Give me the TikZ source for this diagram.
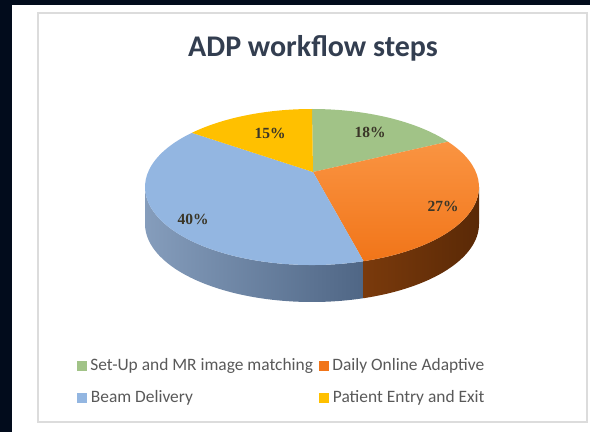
\documentclass[tikz,border=0pt]{standalone}
\usepackage{fontspec}
\setmainfont{Carlito}
\newfontfamily\pctfont{Liberation Serif}
\usetikzlibrary{positioning,calc}
\definecolor{navybg}{HTML}{020C1C}
\definecolor{panelgray}{HTML}{DCDCDC}
\definecolor{titleblue}{HTML}{333E50}
\definecolor{legendgray}{HTML}{595959}
\definecolor{pcttext}{HTML}{3A3628}
\definecolor{pgreen}{HTML}{A1C387}
\definecolor{porangeA}{HTML}{FA9442}
\definecolor{porangeB}{HTML}{F17519}
\definecolor{pblue}{HTML}{93B6E1}
\definecolor{pyellow}{HTML}{FFC000}
\definecolor{bluesideA}{HTML}{859DBC}
\definecolor{bluesideB}{HTML}{4F6685}
\definecolor{orangesideA}{HTML}{7A3A0C}
\definecolor{orangesideB}{HTML}{5A2906}
\tikzset{
  pct/.style={font=\pctfont\bfseries\fontsize{15.5}{15.5}\selectfont, text=pcttext},
  legkey/.style={minimum size=10pt, inner sep=0pt},
  legtext/.style={font=\fontsize{17.4}{17.4}\selectfont, text=legendgray, inner sep=0pt, anchor=west},
  pietitle/.style={font=\bfseries\fontsize{30}{30}\selectfont, text=titleblue},
  rim/.style={x radius=167, y radius=78}
}
\begin{document}
\begin{tikzpicture}[x=1pt,y=1pt]
  \useasboundingbox (0,0) rectangle (590,432);
  \fill[navybg] (0,0) rectangle (590,432);
  \fill[white] (12,0) rectangle (590,427);
  \draw[panelgray, line width=1.5pt, fill=white] (38,10) rectangle (587,419);
  \node[pietitle] (title) at (313,384) {ADP workflow steps};
  % pie: ellipse centre and slice vertex
  \coordinate (C) at (312,245);
  \coordinate (V) at (313,260);
  % side faces
  \shade[left color=bluesideA, right color=bluesideB] ($(C)+(180:167 and 78)$) arc[rim, start angle=180, end angle=288] -- ++(0,-37) arc[rim, start angle=288, end angle=180] -- cycle;
  \shade[left color=orangesideA, right color=orangesideB] ($(C)+(288:167 and 78)$) arc[rim, start angle=288, end angle=360] -- ++(0,-37) arc[rim, start angle=360, end angle=288] -- cycle;
  % top faces
  \fill[pgreen] (V) -- ($(C)+(90:167 and 78)$) arc[rim, start angle=90, end angle=35.5] -- cycle;
  \shade[top color=porangeA, bottom color=porangeB] (V) -- ($(C)+(35.5:167 and 78)$) arc[rim, start angle=35.5, end angle=-72] -- cycle;
  \fill[pblue] (V) -- ($(C)+(-72:167 and 78)$) arc[rim, start angle=-72, end angle=-224] -- cycle;
  \fill[pyellow] (V) -- ($(C)+(136:167 and 78)$) arc[rim, start angle=136, end angle=90] -- cycle;
  \node[pct] (p18) at (370,300) {18\%};
  \node[pct] (p27) at (443,226) {27\%};
  \node[pct] (p40) at (193,213) {40\%};
  \node[pct] (p15) at (270,299) {15\%};
  % legend
  \node[legkey, fill=pgreen] (kset) at (81.5,66.5) {};
  \node[legtext, right=3.5pt of kset] (tset) {Set-Up and MR image matching};
  \node[legkey, fill=porangeB] (kdaily) at (324,66.5) {};
  \node[legtext, right=3pt of kdaily] (tdaily) {Daily Online Adaptive};
  \node[legkey, fill=pblue] (kbeam) at (81.5,34) {};
  \node[legtext, right=4pt of kbeam] (tbeam) {Beam Delivery};
  \node[legkey, fill=pyellow] (kpat) at (323.5,34) {};
  \node[legtext, right=4pt of kpat] (tpat) {Patient Entry and Exit};
\end{tikzpicture}
\end{document}
